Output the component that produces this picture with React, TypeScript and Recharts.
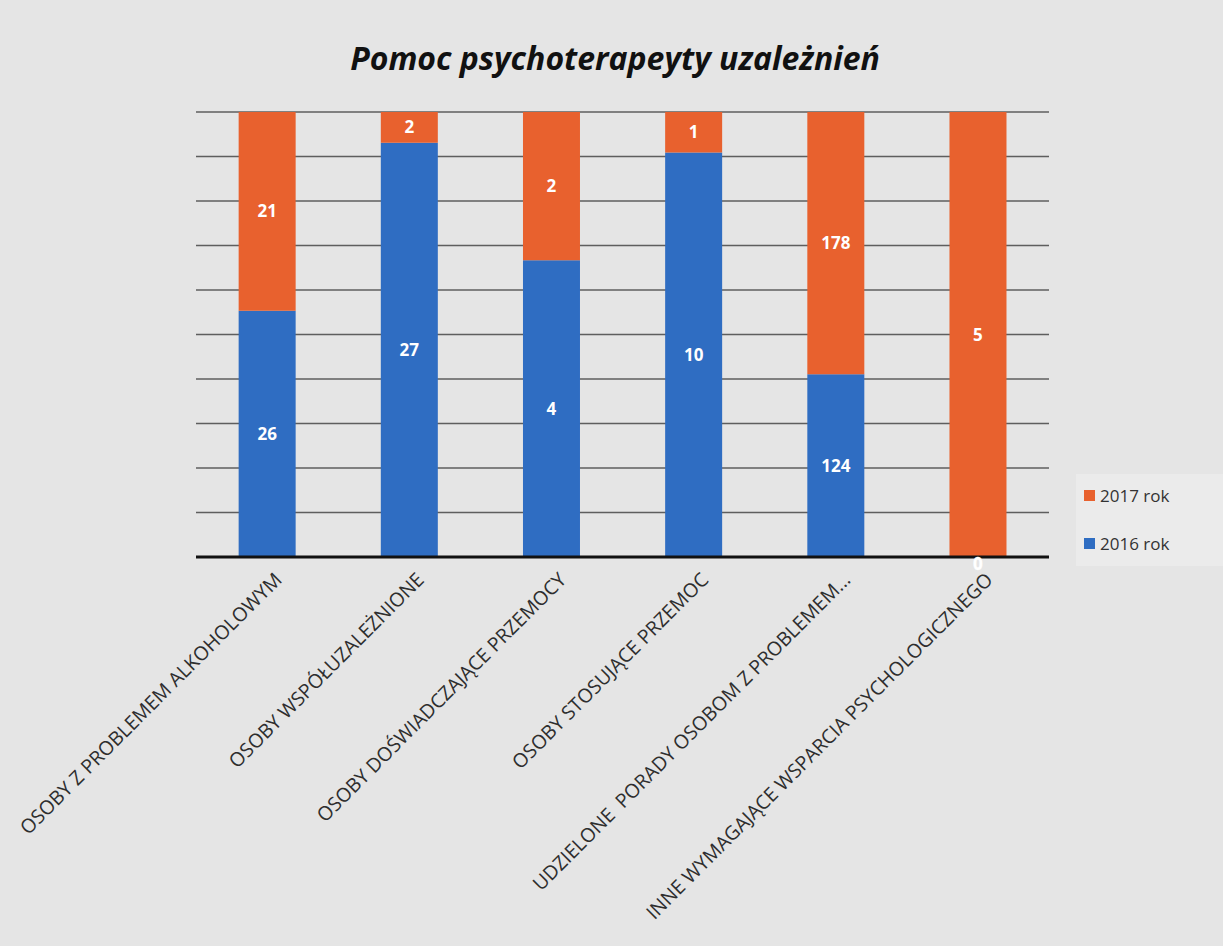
import { BarChart, Bar, XAxis, YAxis, CartesianGrid, LabelList } from "recharts";

const categories = [
  "OSOBY Z PROBLEMEM ALKOHOLOWYM",
  "OSOBY WSPÓŁUZALEŻNIONE",
  "OSOBY DOŚWIADCZAJĄCE PRZEMOCY",
  "OSOBY STOSUJĄCE PRZEMOC",
  "UDZIELONE  PORADY OSOBOM Z PROBLEMEM...",
  "INNE WYMAGAJĄCE WSPARCIA PSYCHOLOGICZNEGO",
];
const values2016 = [26, 27, 4, 10, 124, 0];
const values2017 = [21, 2, 2, 1, 178, 5];
const yTicks = [0, 0.1, 0.2, 0.3, 0.4, 0.5, 0.6, 0.7, 0.8, 0.9, 1];
const seriesNames = ["2017 rok", "2016 rok"];

const BLUE = "#2f6dc2";
const ORANGE = "#e8612e";
const FONT = "'Open Sans', 'Noto Sans', sans-serif";

const data = categories.map((name, i) => ({ name, r2016: values2016[i], r2017: values2017[i] }));

function AngledTick({ x, y, payload }: any) {
  const tx = x + 16;
  const ty = y + 16;
  return (
    <text
      x={tx}
      y={ty}
      transform={`rotate(-45, ${tx}, ${ty})`}
      textAnchor="end"
      fontSize={19.5}
      fill="#2e2e2e"
      fontFamily={FONT}
      style={{ whiteSpace: "pre" }}
    >
      {payload.value}
    </text>
  );
}

// the 2016 bar of height 0 is not drawn, so its "0" label sits at the bottom of the 2017 bar
function ZeroLabel({ x, y, width, height, index }: any) {
  if (values2016[index] !== 0) return null;
  return (
    <text x={x + width / 2} y={y + height + 13} textAnchor="middle" fill="#fff" stroke="#fff" strokeWidth={0.3}
      fontSize={17} fontWeight={700} fontFamily={FONT}>
      {values2016[index]}
    </text>
  );
}

export default function App() {
  return (
    <div style={{ position: "absolute", left: 0, top: 0, width: 1223, height: 946, background: "#e5e5e5" }}>
      <div
        style={{
          position: "absolute",
          top: 36,
          left: 0,
          width: 1230,
          textAlign: "center",
          fontFamily: FONT,
          fontWeight: 700,
          fontStyle: "italic",
          fontSize: 32,
          color: "#111",
        }}
      >
        Pomoc psychoterapeyty uzależnień
      </div>
      <BarChart
        width={1223}
        height={946}
        data={data}
        stackOffset="expand"
        barCategoryGap="30%"
        margin={{ top: 112, right: 174, bottom: 0, left: 196 }}
      >
        <CartesianGrid vertical={false} stroke="#5e5e5e" strokeWidth={1.5} />
        <YAxis hide domain={[0, 1]} ticks={yTicks} />
        <XAxis
          dataKey="name"
          interval={0}
          height={389}
          tick={<AngledTick />}
          tickLine={false}
          axisLine={{ stroke: "#111", strokeWidth: 3 }}
        />
        <Bar dataKey="r2016" name="2016 rok" stackId="a" fill={BLUE} isAnimationActive={false}>
          <LabelList dataKey="r2016" position="center" fill="#fff" fontWeight={700} fontSize={17} fontFamily={FONT} />
        </Bar>
        <Bar dataKey="r2017" name="2017 rok" stackId="a" fill={ORANGE} isAnimationActive={false}>
          <LabelList dataKey="r2017" position="center" fill="#fff" fontWeight={700} fontSize={17} fontFamily={FONT} />
          <LabelList dataKey="r2017" content={<ZeroLabel />} />
        </Bar>
      </BarChart>
      <div
        style={{
          position: "absolute",
          left: 1076,
          top: 474,
          width: 140,
          padding: "2px 0 4px 8px",
          background: "#ebebeb",
          fontFamily: FONT,
          fontSize: 17,
          color: "#333",
        }}
      >
        {seriesNames.map((n) => (
          <div key={n} style={{ display: "flex", alignItems: "center", height: 38, marginTop: n === seriesNames[0] ? 0 : 10 }}>
            <span
              style={{
                width: 11,
                height: 11,
                background: n.startsWith("2017") ? ORANGE : BLUE,
                display: "inline-block",
                marginRight: 5,
              }}
            />
            {n}
          </div>
        ))}
      </div>
    </div>
  );
}
